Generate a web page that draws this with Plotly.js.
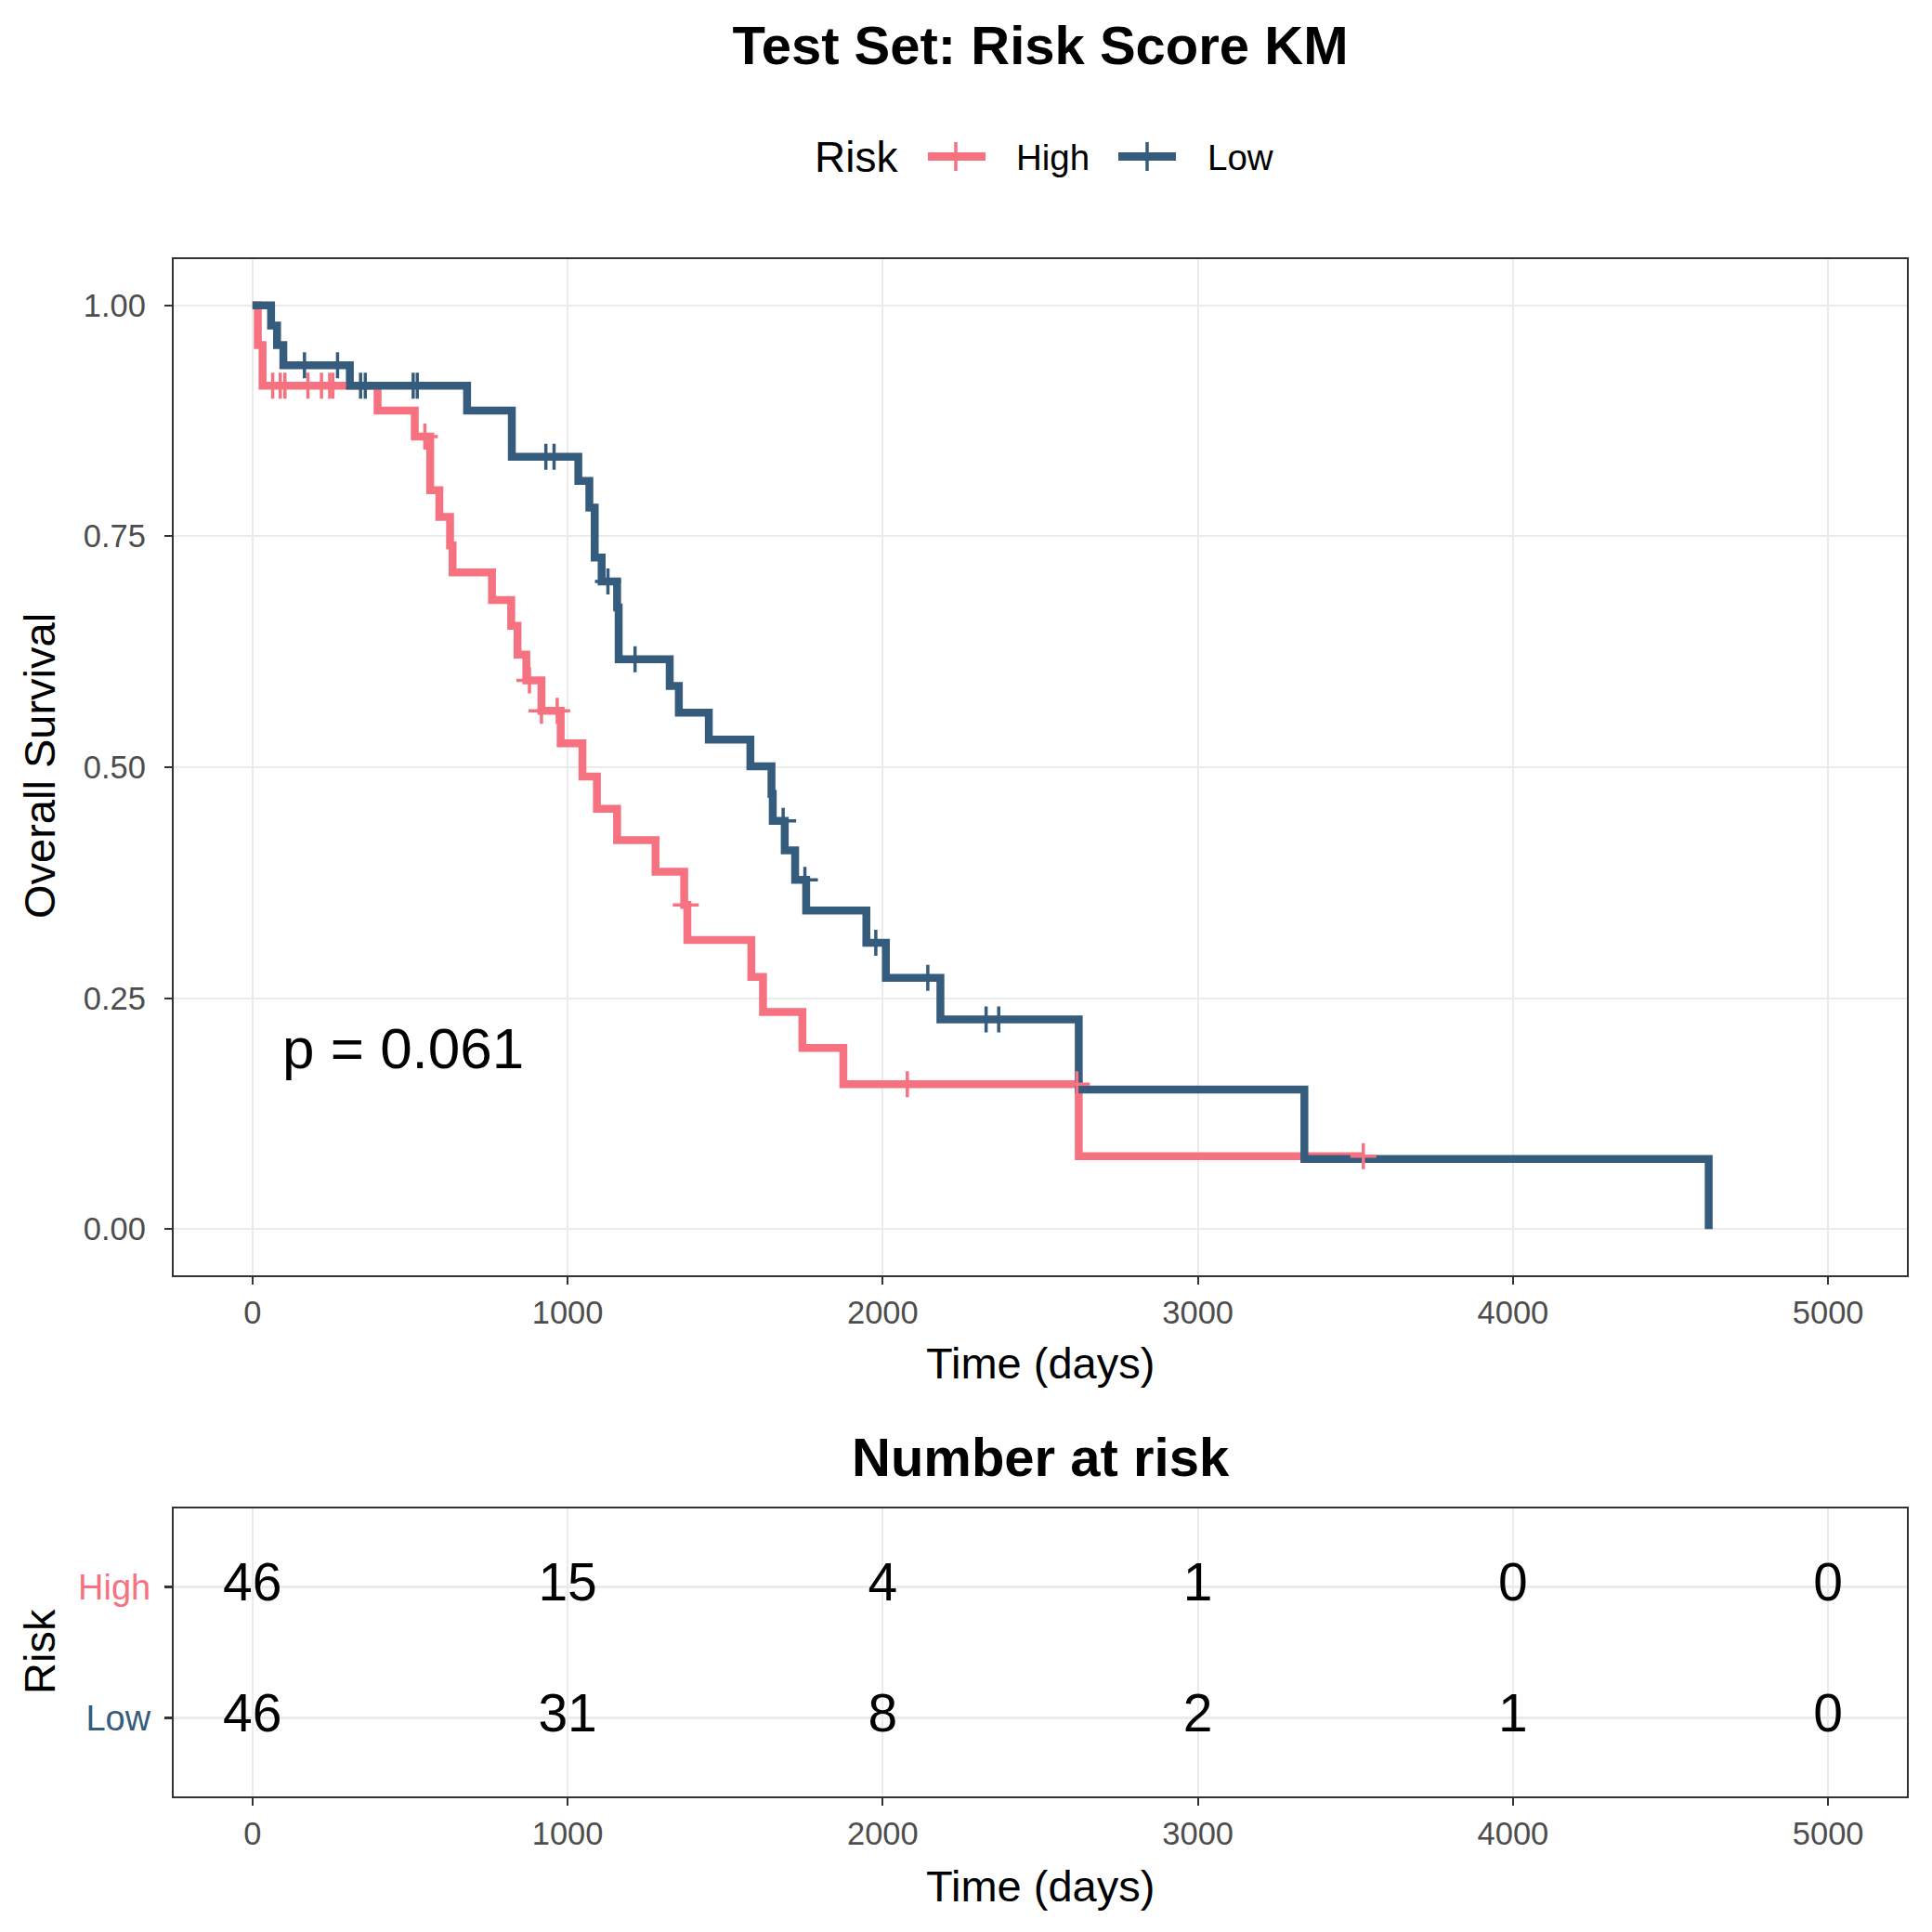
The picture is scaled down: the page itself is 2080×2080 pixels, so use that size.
<!DOCTYPE html>
<html>
<head>
<meta charset="utf-8">
<script src="https://cdn.plot.ly/plotly-3.0.1.min.js"></script>
<style>html,body{margin:0;padding:0;background:#fff;}#chart{width:2080px;height:2080px;}</style>
</head>
<body>
<div id="chart"></div>
<script>
// ---- data ----
const groups = ["High", "Low"];
const groupColors = ["#F67280", "#355C7D"];

// Kaplan-Meier step points (time in days, survival probability)
const highTime = [0, 17, 32, 397, 515, 564, 593, 627, 635, 760, 821, 841, 869, 917, 978, 1047, 1093, 1157, 1279, 1370, 1380, 1583, 1620, 1745, 1875, 2622, 3525];
const highSurv = [1, 0.957, 0.913, 0.886, 0.858, 0.800, 0.771, 0.740, 0.711, 0.681, 0.653, 0.622, 0.594, 0.561, 0.526, 0.490, 0.455, 0.421, 0.387, 0.351, 0.313, 0.273, 0.235, 0.196, 0.157, 0.079, 0.079];

const lowTime = [0, 59, 78, 98, 309, 681, 823, 1034, 1069, 1086, 1108, 1157, 1162, 1324, 1353, 1448, 1580, 1647, 1651, 1689, 1722, 1757, 1948, 2010, 2183, 2622, 3338, 4621];
const lowSurv = [1, 0.978, 0.957, 0.935, 0.913, 0.886, 0.836, 0.810, 0.781, 0.727, 0.701, 0.673, 0.617, 0.588, 0.559, 0.530, 0.501, 0.471, 0.442, 0.410, 0.378, 0.345, 0.310, 0.272, 0.227, 0.151, 0.076, 0];

// censored observations
const highCensTime = [64, 88, 103, 176, 219, 245, 255, 547, 879, 917, 967, 1375, 2078, 2616, 3525];
const highCensSurv = [0.913, 0.913, 0.913, 0.913, 0.913, 0.913, 0.913, 0.858, 0.594, 0.561, 0.561, 0.351, 0.157, 0.157, 0.079];
const lowCensTime = [165, 270, 343, 358, 510, 523, 931, 957, 1128, 1214, 1684, 1753, 1978, 2143, 2328, 2368];
const lowCensSurv = [0.935, 0.935, 0.913, 0.913, 0.913, 0.913, 0.836, 0.836, 0.701, 0.617, 0.442, 0.378, 0.310, 0.272, 0.227, 0.227];

// number at risk table
const riskTimes = [0, 1000, 2000, 3000, 4000, 5000];
const riskHigh = [46, 15, 4, 1, 0, 0];
const riskLow = [46, 31, 8, 2, 1, 0];

const pValueText = "p = 0.061";
const survTicks = [0, 0.25, 0.5, 0.75, 1];

// ---- layout helpers (pixel -> paper) ----
const W = 2080, H = 2080;
const px = v => v / W;
const py = v => 1 - v / H;
const FONT = "Liberation Sans, Arial, Helvetica, sans-serif";

const lineW = 8.5;
const censorSize = 20;
const censorW = 3.5;

const traces = [
  {x: highTime, y: highSurv, type: "scatter", mode: "lines", line: {shape: "hv", color: groupColors[0], width: lineW}, xaxis: "x", yaxis: "y", name: groups[0], hoverinfo: "x+y"},
  {x: lowTime, y: lowSurv, type: "scatter", mode: "lines", line: {shape: "hv", color: groupColors[1], width: lineW}, xaxis: "x", yaxis: "y", name: groups[1], hoverinfo: "x+y"},
  {x: highCensTime, y: highCensSurv, type: "scatter", mode: "markers", marker: {symbol: "cross-thin", size: censorSize, color: groupColors[0], line: {color: groupColors[0], width: censorW}}, xaxis: "x", yaxis: "y", name: groups[0] + " censored"},
  {x: lowCensTime, y: lowCensSurv, type: "scatter", mode: "markers", marker: {symbol: "cross-thin", size: censorSize, color: groupColors[1], line: {color: groupColors[1], width: censorW}}, xaxis: "x", yaxis: "y", name: groups[1] + " censored"},
  {x: riskTimes, y: riskTimes.map(() => 2), text: riskHigh.map(String), type: "scatter", mode: "text", textposition: "middle center", textfont: {family: FONT, size: 57, color: "#000"}, xaxis: "x2", yaxis: "y2", name: "High at risk"},
  {x: riskTimes, y: riskTimes.map(() => 1), text: riskLow.map(String), type: "scatter", mode: "text", textposition: "middle center", textfont: {family: FONT, size: 57, color: "#000"}, xaxis: "x2", yaxis: "y2", name: "Low at risk"}
];

const xDomain = [px(187), px(2053)];
const commonAxis = {
  showline: true, mirror: true, linecolor: "#333333", linewidth: 2.2,
  ticks: "outside", ticklen: 8, tickwidth: 2.2, tickcolor: "#333333",
  showgrid: true, gridcolor: "#EBEBEB", gridwidth: 2.2, zeroline: false,
  tickfont: {family: FONT, size: 34.5, color: "#4D4D4D"}
};

const layout = {
  width: W, height: H,
  margin: {l: 0, r: 0, t: 0, b: 0},
  paper_bgcolor: "#ffffff", plot_bgcolor: "#ffffff",
  showlegend: false,
  font: {family: FONT},
  title: {text: "<b>Test Set: Risk Score KM</b>", font: {family: FONT, size: 58, color: "#000"}, x: px(1120), xanchor: "center", y: py(49), yanchor: "middle", xref: "paper", yref: "paper"},
  xaxis: Object.assign({}, commonAxis, {domain: xDomain, anchor: "y", range: [-250, 5250], tickvals: riskTimes, ticktext: riskTimes.map(String)}),
  yaxis: Object.assign({}, commonAxis, {domain: [py(1373), py(279)], anchor: "x", range: [-0.05, 1.05], tickvals: survTicks, ticktext: survTicks.map(v => v.toFixed(2)), ticklabelstandoff: 13}),
  xaxis2: Object.assign({}, commonAxis, {domain: xDomain, anchor: "y2", range: [-250, 5250], tickvals: riskTimes, ticktext: riskTimes.map(String)}),
  yaxis2: Object.assign({}, commonAxis, {domain: [py(1934), py(1624)], anchor: "x2", range: [0.4, 2.6], tickvals: [1, 2],
    ticktext: ['<span style="color:' + groupColors[1] + '">' + groups[1] + '</span>', '<span style="color:' + groupColors[0] + '">' + groups[0] + '</span>'],
    tickfont: {family: FONT, size: 38, color: "#4D4D4D"}, ticklabelstandoff: 7}),
  annotations: [
    {text: "Time (days)", xref: "paper", yref: "paper", x: px(1120), y: py(1467), xanchor: "center", yanchor: "middle", showarrow: false, font: {family: FONT, size: 47, color: "#000"}},
    {text: "Overall Survival", xref: "paper", yref: "paper", x: px(42), y: py(825), xanchor: "center", yanchor: "middle", textangle: -90, showarrow: false, font: {family: FONT, size: 47, color: "#000"}},
    {text: pValueText, xref: "x", yref: "y", x: 90, y: 0.196, xanchor: "left", yanchor: "middle", showarrow: false, font: {family: FONT, size: 62, color: "#000"}},
    {text: "<b>Number at risk</b>", xref: "paper", yref: "paper", x: px(1120), y: py(1568), xanchor: "center", yanchor: "middle", showarrow: false, font: {family: FONT, size: 58, color: "#000"}},
    {text: "Time (days)", xref: "paper", yref: "paper", x: px(1120), y: py(2030), xanchor: "center", yanchor: "middle", showarrow: false, font: {family: FONT, size: 47, color: "#000"}},
    {text: "Risk", xref: "paper", yref: "paper", x: px(42), y: py(1778), xanchor: "center", yanchor: "middle", textangle: -90, showarrow: false, font: {family: FONT, size: 47, color: "#000"}},
    // legend
    {text: "Risk", xref: "paper", yref: "paper", x: px(875), y: py(169), xanchor: "left", yanchor: "middle", showarrow: false, font: {family: FONT, size: 46, color: "#000"}},
    {text: groups[0], xref: "paper", yref: "paper", x: px(1092), y: py(169), xanchor: "left", yanchor: "middle", showarrow: false, font: {family: FONT, size: 38.5, color: "#000"}},
    {text: groups[1], xref: "paper", yref: "paper", x: px(1298), y: py(169), xanchor: "left", yanchor: "middle", showarrow: false, font: {family: FONT, size: 38.5, color: "#000"}}
  ],
  shapes: [
    {type: "line", xref: "paper", yref: "paper", x0: px(999), x1: px(1061), y0: py(168.5), y1: py(168.5), line: {color: groupColors[0], width: 9}},
    {type: "line", xref: "paper", yref: "paper", x0: px(1029), x1: px(1029), y0: py(153), y1: py(184), line: {color: groupColors[0], width: 3.5}},
    {type: "line", xref: "paper", yref: "paper", x0: px(1204), x1: px(1266), y0: py(168.5), y1: py(168.5), line: {color: groupColors[1], width: 9}},
    {type: "line", xref: "paper", yref: "paper", x0: px(1235), x1: px(1235), y0: py(153), y1: py(184), line: {color: groupColors[1], width: 3.5}}
  ]
};

Plotly.newPlot("chart", traces, layout, {displayModeBar: false, staticPlot: true});
</script>
</body>
</html>
